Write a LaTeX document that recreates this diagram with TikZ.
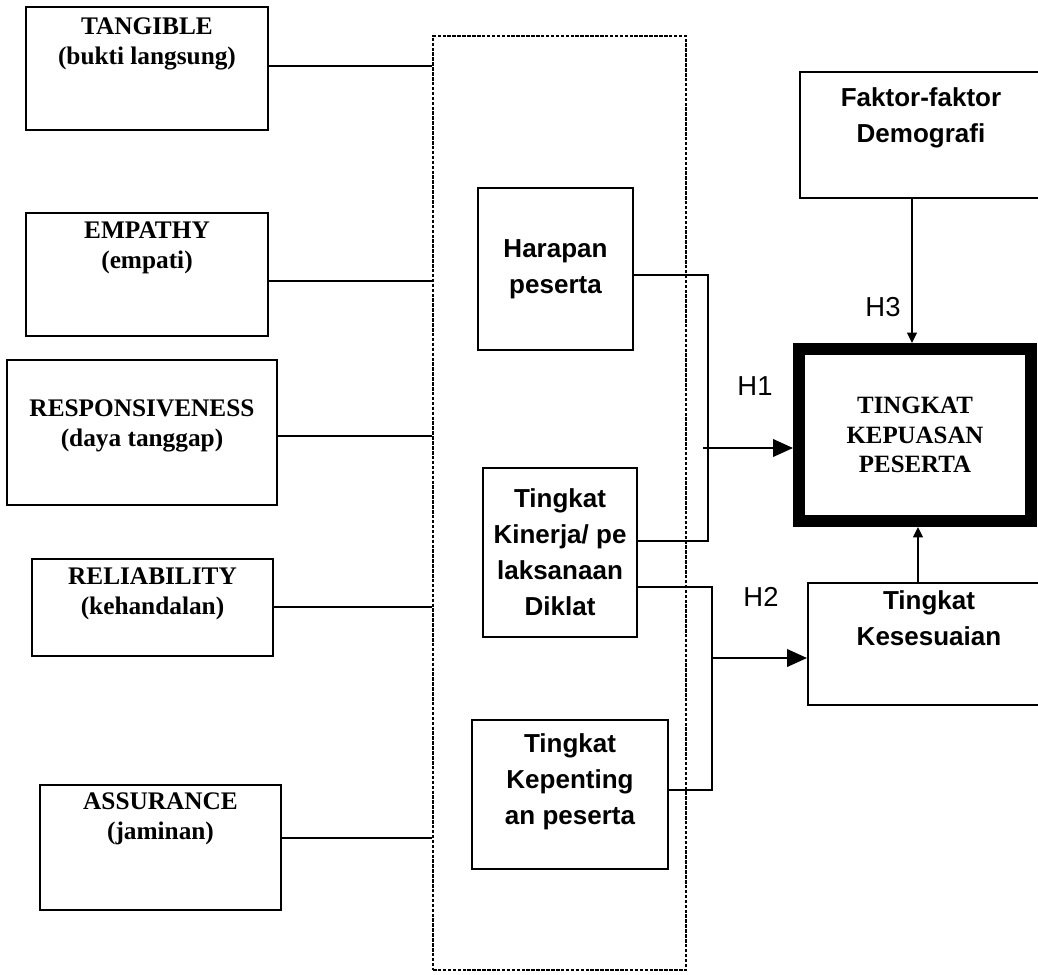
\documentclass[tikz,border=0pt]{standalone}
\usepackage{fontspec}
\setmainfont{Liberation Serif}
\setsansfont{Liberation Sans}
\usetikzlibrary{arrows.meta,positioning}

\begin{document}
\begin{tikzpicture}[x=0.25mm, y=-0.25mm, line width=0.5mm,
    >={Triangle[length=5mm,width=4.4mm]},
    b/.style={draw, inner sep=0pt},
    dim/.style={font=\bfseries\fontsize{18}{21.3}\selectfont, align=center, inner sep=0pt},
    var/.style={font=\sffamily\bfseries\fontsize{18.5}{25.6}\selectfont, align=center, inner sep=0pt},
    hyp/.style={font=\sffamily\fontsize{19.5}{20}\selectfont, inner sep=0pt},
    up/.style={-{Triangle[length=2.6mm,width=2.4mm]}}]
  \useasboundingbox (0,0) rectangle (1038,974);

  % service quality dimensions
  \node[b, minimum width=60.5mm, minimum height=30.75mm] (T) at (147,68.5) {};
  \node[dim, below=2.6mm of T.north] (Tt) {TANGIBLE\\(bukti langsung)};
  \node[b, minimum width=60.5mm, minimum height=30.75mm] (M) at (147,274.5) {};
  \node[dim, below=2.3mm of M.north] (Mt) {EMPATHY\\(empati)};
  \node[b, minimum width=67.5mm, minimum height=36.25mm] (R) at (142,432.5) {};
  \node[dim, below=10mm of R.north] (Rt) {RESPONSIVENESS\\(daya tanggap)};
  \node[b, minimum width=60.25mm, minimum height=24.25mm] (L) at (152.5,607.5) {};
  \node[dim, below=2.3mm of L.north] (Lt) {RELIABILITY\\(kehandalan)};
  \node[b, minimum width=60.25mm, minimum height=31.25mm] (A) at (160.5,847.5) {};
  \node[dim, below=2mm of A.north] (At) {ASSURANCE\\(jaminan)};

  % dotted frame
  \node[b, dash pattern=on 2.5pt off 1pt, line width=0.35mm,
        minimum width=63.25mm, minimum height=233.5mm] (F) at (559.5,503) {};
  \node[b, var, minimum width=38.75mm, minimum height=40.5mm] (H) at (555.5,269) {Harapan\\peserta};
  \node[b, var, minimum width=38.5mm, minimum height=42.25mm] (K) at (560,552.5)
    {Tingkat\\Kinerja/ pe\\laksanaan\\Diklat};
  \node[b, minimum width=49mm, minimum height=37.25mm] (P) at (570,794.5) {};
  \node[var, below=3.3mm of P.north] (Pt) {Tingkat\\Kepenting\\an peserta};

  % right column
  \node[b, minimum width=62.5mm, minimum height=31.5mm] (D) at (925,135) {};
  \node[var, below=4mm of D.north, xshift=-1mm] (Dt) {Faktor-faktor\\Demografi};
  \node[b, line width=3mm, minimum width=58mm, minimum height=43mm, align=center,
        font=\bfseries\fontsize{17.7}{21}\selectfont] (S) at (915,435) {TINGKAT\\KEPUASAN\\PESERTA};
  \node[b, minimum width=60.5mm, minimum height=30.5mm] (E) at (929,644) {};
  \node[var, below=2mm of E.north] (Et) {Tingkat\\Kesesuaian};

  \draw (T.east |- 0,66) -- (F.west |- 0,66);
  \draw (M.east |- 0,281) -- (F.west |- 0,281);
  \draw (R.east |- 0,436) -- (F.west |- 0,436);
  \draw (L.east |- 0,607) -- (F.west |- 0,607);
  \draw (A.east |- 0,838) -- (F.west |- 0,838);

  \draw (H.east |- 0,275) -| (708,541) -- (K.east |- 0,541);
  \draw (K.east |- 0,587) -| (712,790) -- (P.east |- 0,790);
  \coordinate (h1) at (703,448);
  \coordinate (h2) at (712,658);
  \draw[->] (h1) -- (h1 -| S.west);
  \draw[->] (h2) -- (h2 -| E.west);
  \draw[up] (D.south -| 912,0) -- (S.north -| 912,0);
  \draw[up] (E.north -| 918,0) -- (S.south -| 918,0);

  \node[hyp] (H1) at (755,386) {H1};
  \node[hyp] (H2) at (761,597) {H2};
  \node[hyp] (H3) at (883,307) {H3};
\end{tikzpicture}
\end{document}
